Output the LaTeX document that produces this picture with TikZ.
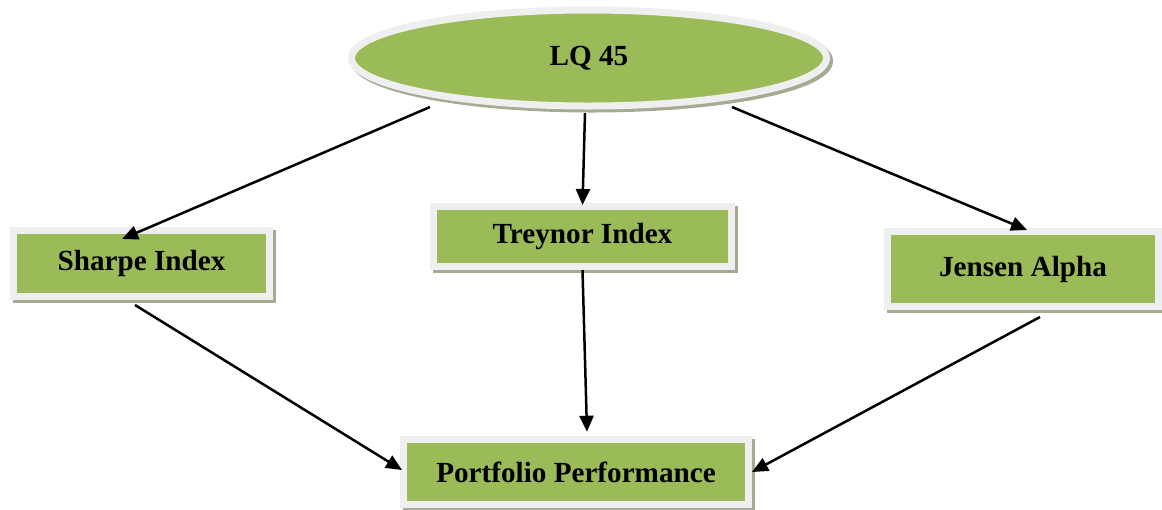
\documentclass[tikz,border=0pt]{standalone}
\usepackage{fontspec}
\setmainfont{Liberation Serif}
\usetikzlibrary{shapes.geometric,arrows.meta,shadows}
\definecolor{boxgreen}{HTML}{9BBB59}
\definecolor{boxrim}{HTML}{EFEFEF}
\definecolor{boxshade}{HTML}{A3AC92}

\begin{document}
\begin{tikzpicture}[
  box/.style={rectangle, fill=boxgreen, draw=boxrim, line width=0.14cm, inner sep=0pt,
    font=\fontsize{16.6}{20}\selectfont\bfseries,
    drop shadow={shadow xshift=0.06cm, shadow yshift=-0.06cm, fill=boxshade,
      draw=boxshade, line width=0.14cm, opacity=1}},
  oval/.style={box, ellipse},
  link/.style={-{Triangle[length=0.32cm,width=0.28cm]}, line width=0.05cm}]
  \useasboundingbox (0,0) rectangle (23.24,-10.18);
   % top and the three measures
   \node [oval, minimum width=9.5cm, minimum height=1.92cm] (lq45) at (11.78,-1.16) {LQ 45};
   \node [box, minimum width=5.12cm, minimum height=1.32cm] (sharpe) at (2.83,-5.27) {Sharpe Index};
   \node [box, minimum width=5.96cm, minimum height=1.2cm] (treynor) at (11.65,-4.73) {Treynor Index};
   \node [box, minimum width=5.42cm, minimum height=1.5cm] (jensen) at (20.46,-5.38) {Jensen Alpha};
   \node [box, minimum width=6.9cm, minimum height=1.31cm] (perf) at (11.52,-9.44) {Portfolio Performance};
    \path[link]
    ([shift={(-3.18,-0.98)}]lq45.center) edge ([shift={(-0.39,-0.24)}]sharpe.north)
    ([shift={(-0.08,-0.07)}]lq45.south) edge ([yshift=-0.04cm]treynor.north)
    ([shift={(2.86,-0.98)}]lq45.center) edge ([shift={(0.08,-0.04)}]jensen.north)
    ([shift={(-0.13,-0.1)}]sharpe.south) edge ([shift={(0.04,0.04)}]perf.west)
    (treynor.south) edge ([shift={(0.22,0.08)}]perf.north)
    ([shift={(0.34,-0.14)}]jensen.south) edge (perf.east);
\end{tikzpicture}
\end{document}
